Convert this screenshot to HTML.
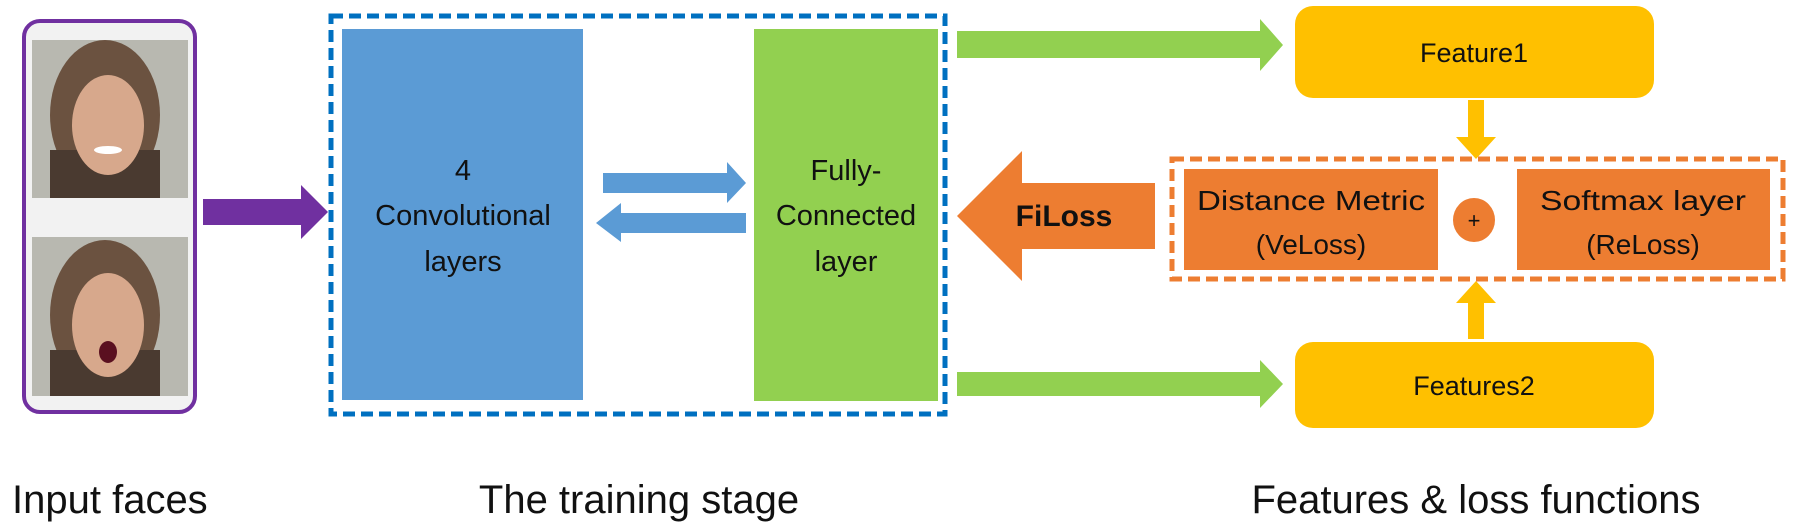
<!DOCTYPE html>
<html><head><meta charset="utf-8"><style>
html,body{margin:0;padding:0;background:#fff;}
svg{display:block;}
text{font-family:"Liberation Sans",sans-serif;fill:#111;}
</style></head><body>
<svg width="1801" height="530" viewBox="0 0 1801 530" xmlns="http://www.w3.org/2000/svg">
<rect x="24" y="21" width="171" height="391" rx="16" fill="#f2f2f2" stroke="#7030a0" stroke-width="4"/>
<g>
 <rect x="32" y="40" width="156" height="158" fill="#b8b8b0"/>
 <ellipse cx="105" cy="115" rx="55" ry="75" fill="#6b5240"/>
 <rect x="50" y="150" width="110" height="48" fill="#4a3a30"/>
 <ellipse cx="108" cy="125" rx="36" ry="50" fill="#d7a88c"/>
 <ellipse cx="108" cy="150" rx="14" ry="4" fill="#fff"/>
 <rect x="32" y="237" width="156" height="159" fill="#b8b8b0"/>
 <ellipse cx="105" cy="315" rx="55" ry="75" fill="#6b5240"/>
 <rect x="50" y="350" width="110" height="46" fill="#4a3a30"/>
 <ellipse cx="108" cy="325" rx="36" ry="52" fill="#d7a88c"/>
 <ellipse cx="108" cy="352" rx="9" ry="11" fill="#5a1020"/>
</g>
<polygon points="203,199 301,199 301,185 328,212 301,239 301,225 203,225" fill="#7030a0"/>
<rect x="331" y="16" width="614" height="398" fill="none" stroke="#0070c0" stroke-width="5" stroke-dasharray="12,6"/>
<rect x="342" y="29" width="241" height="371" fill="#5b9bd5"/>
<rect x="754" y="29" width="184" height="372" fill="#92d050"/>
<text x="463" y="180" font-size="29" text-anchor="middle">4</text>
<text x="463" y="225" font-size="29" text-anchor="middle">Convolutional</text>
<text x="463" y="271" font-size="29" text-anchor="middle">layers</text>
<text x="846" y="180" font-size="29" text-anchor="middle">Fully-</text>
<text x="846" y="225" font-size="29" text-anchor="middle">Connected</text>
<text x="846" y="271" font-size="29" text-anchor="middle">layer</text>
<polygon points="603,173 727,173 727,162 746,183 727,203 727,193 603,193" fill="#5b9bd5"/>
<polygon points="746,213 621,213 621,203 596,223 621,242 621,233 746,233" fill="#5b9bd5"/>
<polygon points="957,31 1260,31 1260,19 1283,45 1260,71 1260,58 957,58" fill="#92d050"/>
<polygon points="957,372 1260,372 1260,360 1283,384 1260,408 1260,396 957,396" fill="#92d050"/>
<rect x="1295" y="6" width="359" height="92" rx="18" fill="#ffc000"/>
<text x="1474" y="62" font-size="27" text-anchor="middle">Feature1</text>
<rect x="1295" y="342" width="359" height="86" rx="18" fill="#ffc000"/>
<text x="1474" y="395" font-size="27" text-anchor="middle">Features2</text>
<polygon points="1468,100 1484,100 1484,137 1496,137 1476,159 1456,137 1468,137" fill="#ffc000"/>
<polygon points="1468,339 1484,339 1484,303 1496,303 1476,281 1456,303 1468,303" fill="#ffc000"/>
<rect x="1172" y="159" width="611" height="120" fill="none" stroke="#ed7d31" stroke-width="5" stroke-dasharray="12,6"/>
<rect x="1184" y="169" width="254" height="101" fill="#ed7d31"/>
<rect x="1517" y="169" width="253" height="101" fill="#ed7d31"/>
<text x="1311" y="210" font-size="28" text-anchor="middle" textLength="228" lengthAdjust="spacingAndGlyphs">Distance Metric</text>
<text x="1311" y="254" font-size="28" text-anchor="middle">(VeLoss)</text>
<text x="1643" y="210" font-size="28" text-anchor="middle" textLength="206" lengthAdjust="spacingAndGlyphs">Softmax layer</text>
<text x="1643" y="254" font-size="28" text-anchor="middle">(ReLoss)</text>
<ellipse cx="1474" cy="220" rx="21" ry="22" fill="#ed7d31"/>
<text x="1474" y="228" font-size="22" text-anchor="middle">+</text>
<polygon points="1155,183 1022,183 1022,151 957,216 1022,281 1022,249 1155,249" fill="#ed7d31"/>
<text x="1064" y="226" font-size="30" font-weight="bold" text-anchor="middle">FiLoss</text>
<text x="12" y="513" font-size="40">Input faces</text>
<text x="639" y="513" font-size="40" text-anchor="middle">The training stage</text>
<text x="1476" y="513" font-size="40" text-anchor="middle">Features &amp; loss functions</text>
</svg>
</body></html>
